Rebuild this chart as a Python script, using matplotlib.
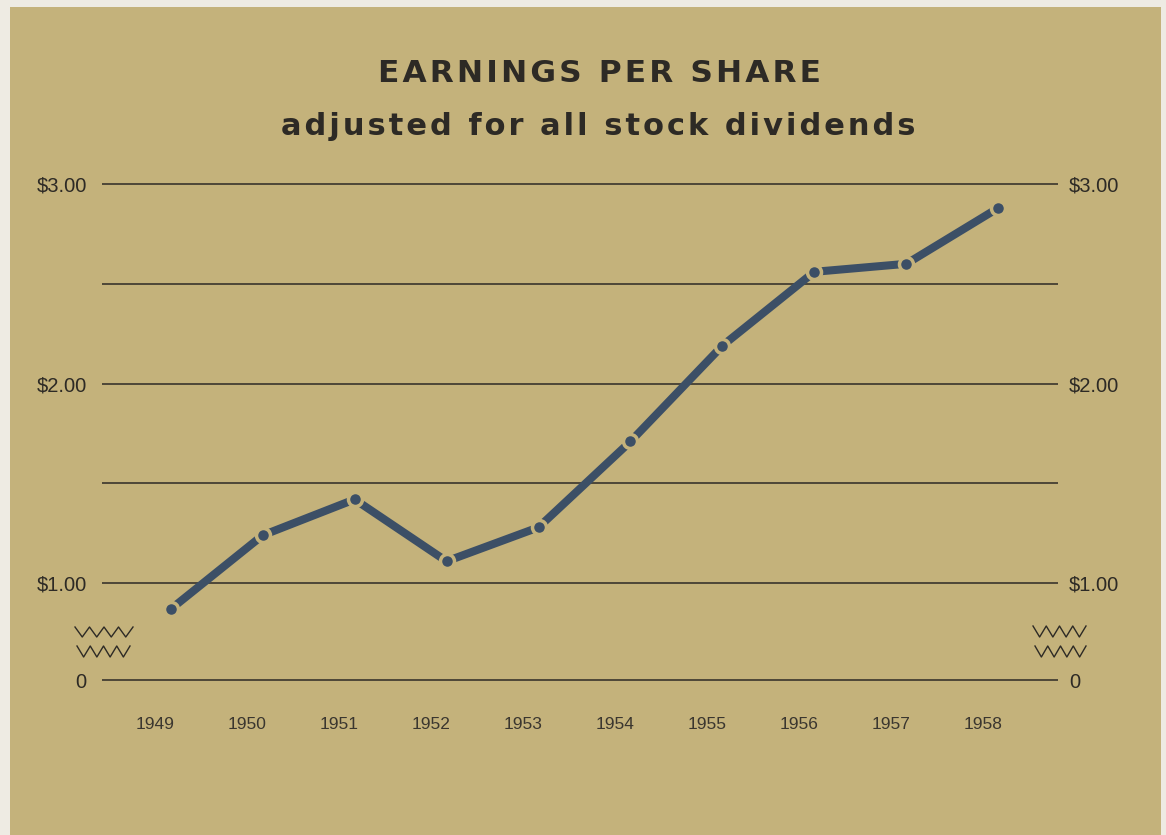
import numpy as np
import matplotlib
matplotlib.use("Agg")
import matplotlib.pyplot as plt
from matplotlib.lines import Line2D
from matplotlib.patches import Rectangle

# data
years = [1949, 1950, 1951, 1952, 1953, 1954, 1955, 1956, 1957, 1958]
eps = [0.87, 1.24, 1.42, 1.11, 1.28, 1.71, 2.19, 2.56, 2.60, 2.88]

grid_vals = [1.0, 1.5, 2.0, 2.5, 3.0]
grid_labels = ["$1.00", "", "$2.00", "", "$3.00"]
ZERO_POS = 0.515   # the axis is broken, so 0 sits just under the $1.00 line

title = "EARNINGS PER SHARE"
subtitle = "adjusted for all stock dividends"

PAPER = "#c4b27b"
EDGE = "#eeebe3"
INK = "#2d2a25"
BLUE = "#3c4f66"

W, H = 1166, 835
fig = plt.figure(figsize=(W / 100, H / 100), dpi=100)
fig.patch.set_facecolor(EDGE)
# the khaki sheet, with a thin light margin on left/top/right like the scan
fig.add_artist(Rectangle((10 / W, 0), 1151 / W, 828 / H, transform=fig.transFigure,
                         facecolor=PAPER, edgecolor="none", zorder=0))

ax = fig.add_axes([102 / W, 1 - 709 / H, 956 / W, 545 / H])
ax.set_facecolor("none")
ax.set_xlim(1948.253, 1958.649)
ax.set_ylim(0.37, 3.1)
for s in ax.spines.values():
    s.set_visible(False)

# horizontal rules = y grid
yt = [ZERO_POS] + grid_vals
yl = ["0"] + grid_labels
ax.set_yticks(yt, labels=yl)
ax.yaxis.grid(True, color=INK, lw=1.1)
ax.set_axisbelow(True)
ax.tick_params(axis="y", length=0, pad=11, labelsize=14.5, labelcolor=INK)
for t in ax.get_yticklabels():
    t.set_family("Liberation Sans")

ax2 = ax.twinx()
ax2.set_ylim(ax.get_ylim())
ax2.set_yticks(yt, labels=yl)
ax2.tick_params(axis="y", length=0, pad=8, labelsize=14.5, labelcolor=INK)
for s in ax2.spines.values():
    s.set_visible(False)
for t in ax2.get_yticklabels():
    t.set_family("Liberation Sans")

# year labels sit a little left of the plotted points
ax.set_xticks([y - 0.165 for y in years], labels=[str(y) for y in years])
ax.tick_params(axis="x", length=0, pad=6, labelsize=12.5, labelcolor="#3a362f")
for t in ax.get_xticklabels():
    t.set_family("Liberation Sans")

ax.plot(years, eps, color=BLUE, lw=5.8, solid_capstyle="butt", zorder=3)
ax.plot(years, eps, "o", ms=10.1, mfc=BLUE, mec=PAPER, mew=2.5, zorder=4)


def zigzag(x0, x1, ytop, ybot, n=4):
    xs = np.linspace(x0, x1, 2 * n + 1)
    ys = [ytop if i % 2 == 0 else ybot for i in range(2 * n + 1)]
    fig.add_artist(Line2D(xs / W, 1 - np.array(ys) / H, transform=fig.transFigure,
                          color=INK, lw=1.0, solid_joinstyle="round"))


# break marks
zigzag(75, 133, 627, 637)
zigzag(77, 130, 646, 657)
zigzag(1033, 1086, 626, 637)
zigzag(1035, 1086, 646, 657)


def spaced(s):
    return "\u200a".join(s)


fig.text(600 / W, 1 - 82 / H, spaced(title), ha="center", va="baseline",
         fontsize=22.5, fontweight="bold", family="DejaVu Sans", color=INK)
fig.text(598 / W, 1 - 135 / H, spaced(subtitle), ha="center", va="baseline",
         fontsize=22, fontweight="bold", family="DejaVu Sans", color=INK)

fig.savefig("out.png", dpi=100, facecolor=fig.get_facecolor())
